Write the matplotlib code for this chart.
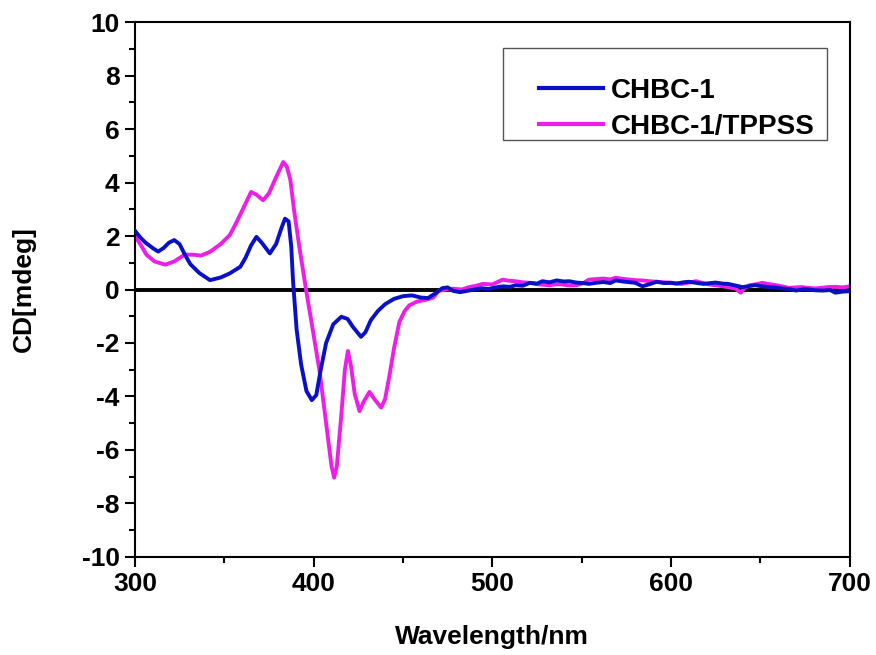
import numpy as np
import matplotlib
matplotlib.use("Agg")
import matplotlib.pyplot as plt
from matplotlib.patches import Rectangle
from matplotlib.ticker import MultipleLocator

# CHBC-1 (blue)
wl_chbc = [300, 303, 306, 310, 313, 316, 319, 322, 325, 328, 331, 336, 342, 348,
           353, 359, 362, 365, 368, 371, 375.5, 379, 382, 384, 386, 387.5, 388.5,
           390.5, 393, 396, 399, 401.5, 404, 407, 411, 415.5, 419, 422, 426.5, 429,
           432, 436, 440, 445, 450, 455, 460, 464, 468, 472, 475, 478, 482, 486,
           490, 494, 498, 502, 506, 510, 513, 517, 521, 525, 528, 532, 536, 540,
           543, 547, 551, 554, 558, 562, 566, 569, 573, 577, 580, 584, 588, 592,
           596, 600, 603, 607, 610, 614, 618, 622, 625, 629, 632, 636, 640, 644,
           647, 651, 655, 659, 662, 666, 670, 674, 677, 681, 685, 689, 692, 696, 700]
cd_chbc = [2.2, 1.95, 1.75, 1.55, 1.42, 1.55, 1.75, 1.85, 1.7, 1.3, 0.95, 0.62, 0.35, 0.45,
           0.6, 0.85, 1.2, 1.65, 1.97, 1.75, 1.35, 1.7, 2.3, 2.65, 2.55, 1.6, 0.3,
           -1.5, -2.8, -3.8, -4.14, -3.95, -3.0, -2.0, -1.3, -1.02, -1.1, -1.4, -1.77, -1.6,
           -1.15, -0.8, -0.55, -0.35, -0.25, -0.22, -0.3, -0.32, -0.15, 0.05, 0.08, -0.05, -0.1, -0.05,
           0.0, 0.05, 0.02, 0.08, 0.12, 0.1, 0.16, 0.14, 0.25, 0.22, 0.31, 0.27, 0.34, 0.3,
           0.31, 0.26, 0.24, 0.21, 0.25, 0.28, 0.24, 0.34, 0.3, 0.27, 0.25, 0.12, 0.2, 0.29,
           0.24, 0.25, 0.22, 0.27, 0.29, 0.25, 0.21, 0.24, 0.26, 0.22, 0.21, 0.15, 0.09, 0.13,
           0.16, 0.12, 0.09, 0.07, 0.04, 0.02, -0.04, 0.01, 0.0, -0.03, -0.04, -0.02, -0.12, -0.08, -0.06]

# CHBC-1/TPPSS (magenta)
wl_tppss = [300, 303, 306.5, 311, 317, 322, 328, 333, 337, 342, 348, 353, 356, 360,
            365, 368, 371.7, 375, 379, 383, 385, 387, 389, 392, 396, 400, 403.4, 407,
            410, 411.5, 413, 415.5, 417.5, 419.2, 421, 423, 425.7, 428, 431.3, 434,
            437.8, 440, 442.5, 445, 448, 451, 453.6, 458, 463, 467, 470, 474, 478,
            483, 487, 491, 494.6, 500, 503, 505.8, 509, 513, 517, 521, 525, 528, 532,
            536, 539, 543, 547, 551, 554, 558, 562, 566, 569, 573, 577, 580, 584, 588,
            592, 596, 599, 603, 606, 610, 614, 618, 621, 625, 629, 632, 636, 639, 641,
            644, 648, 651, 655, 659, 662, 666, 670, 673, 677, 681, 685, 688, 692, 696, 700]
cd_tppss = [2.0, 1.7, 1.3, 1.05, 0.93, 1.05, 1.31, 1.3, 1.27, 1.41, 1.7, 2.03, 2.4, 2.95,
            3.65, 3.55, 3.34, 3.6, 4.2, 4.77, 4.6, 4.1, 3.0, 1.6, -0.1, -1.7, -3.08, -5.0,
            -6.6, -7.04, -6.6, -4.7, -3.0, -2.3, -2.9, -3.9, -4.55, -4.2, -3.83, -4.1,
            -4.42, -4.1, -3.2, -2.2, -1.21, -0.8, -0.59, -0.45, -0.38, -0.3, -0.05, 0.0, 0.03,
            0.0, 0.09, 0.14, 0.21, 0.19, 0.28, 0.37, 0.33, 0.31, 0.27, 0.25, 0.2, 0.18, 0.16,
            0.2, 0.19, 0.15, 0.16, 0.24, 0.37, 0.39, 0.41, 0.38, 0.44, 0.4, 0.37, 0.35, 0.34, 0.31,
            0.29, 0.27, 0.26, 0.23, 0.21, 0.26, 0.31, 0.24, 0.19, 0.16, 0.12, 0.09, 0.04, -0.12, 0.05,
            0.16, 0.2, 0.25, 0.2, 0.16, 0.12, 0.06, 0.08, 0.09, 0.06, 0.04, 0.07, 0.09, 0.1, 0.08, 0.12]

plt.rcParams['font.family'] = ['Liberation Sans', 'DejaVu Sans']
plt.rcParams['font.weight'] = 'bold'
plt.rcParams['axes.unicode_minus'] = False

fig = plt.figure(figsize=(8.76, 6.55), dpi=100)
ax = fig.add_axes([0.154, 0.150, 0.816, 0.816])

ax.axhline(0, color='black', lw=2.8, zorder=1)
ax.plot(wl_chbc, cd_chbc, color='#0a10c8', lw=2.8, label='CHBC-1', zorder=3,
        solid_joinstyle='round')
ax.plot(wl_tppss, cd_tppss, color='#ee1ee8', lw=2.8, label='CHBC-1/TPPSS', zorder=2,
        solid_joinstyle='round')

ax.set_xlim(300, 700)
ax.set_ylim(-10, 10)
ax.xaxis.set_major_locator(MultipleLocator(100))
ax.xaxis.set_minor_locator(MultipleLocator(50))
ax.yaxis.set_major_locator(MultipleLocator(2))
ax.yaxis.set_minor_locator(MultipleLocator(1))
ax.tick_params(which='major', direction='out', length=7, width=1.5, labelsize=19, pad=4)
ax.tick_params(which='minor', direction='out', length=4, width=1.5)
for s in ax.spines.values():
    s.set_linewidth(1.5)

ax.set_xlabel('Wavelength/nm', fontsize=19, fontweight='bold', labelpad=21)
ax.set_ylabel('CD[mdeg]', fontsize=19, fontweight='bold', labelpad=33)

# legend frame drawn separately (box is wider on the left than the entries)
ax.add_patch(Rectangle((0.515, 0.779), 0.453, 0.172, transform=ax.transAxes,
                       fill=False, edgecolor='#555555', lw=1.0, zorder=4))
leg = ax.legend(loc='upper left', bbox_to_anchor=(0.565, 0.896), fontsize=20,
                frameon=False, borderpad=0, handlelength=2.3,
                handletextpad=0.3, labelspacing=0.35, borderaxespad=0)
for line in leg.get_lines():
    line.set_linewidth(3)

fig.savefig('out.png', dpi=100)
